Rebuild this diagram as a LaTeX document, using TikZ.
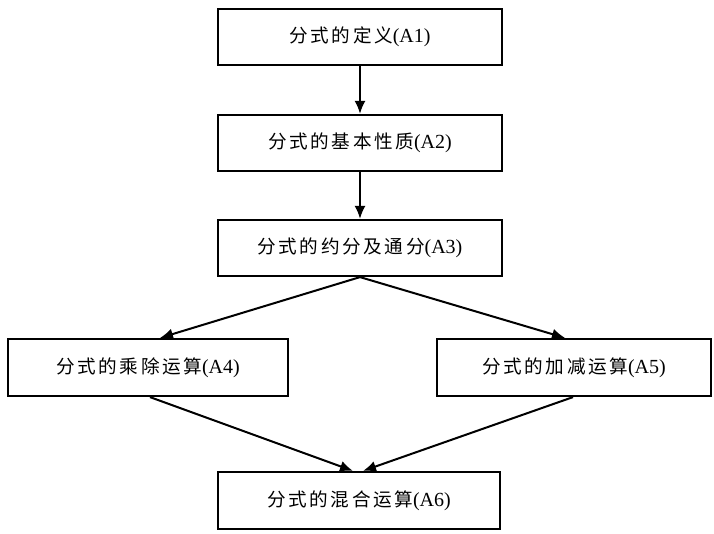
\documentclass[tikz,border=0pt]{standalone}
\usepackage{fontspec}
\setmainfont{Liberation Serif}
\newfontfamily\cjk{Noto Sans CJK SC}[Scale=0.93,LetterSpace=14]
\usetikzlibrary{arrows.meta}
\begin{document}
\begin{tikzpicture}[x=1pt,y=-1pt,
  box/.style={draw=black,line width=2.2pt,fill=white,inner sep=0pt,
    minimum height=56pt,font=\fontsize{20pt}{22pt}\selectfont},
  conn/.style={line width=2pt,-{Latex[length=13pt,width=11pt]}}]
\useasboundingbox[fill=white] (0,0) rectangle (714,534);
\node[box,minimum width=284pt] (A1) at (360,37) {\raisebox{-2pt}{{\cjk 分式的定义}(A1)}};
\node[box,minimum width=284pt] (A2) at (360,143) {\raisebox{-2pt}{{\cjk 分式的基本性质}(A2)}};
\node[box,minimum width=284pt] (A3) at (360,248) {\raisebox{-2pt}{{\cjk 分式的约分及通分}(A3)}};
\node[box,minimum width=280pt,minimum height=57pt] (A4) at (148,367.5) {\raisebox{-2pt}{{\cjk 分式的乘除运算}(A4)}};
\node[box,minimum width=274pt,minimum height=57pt] (A5) at (574,367.5) {\raisebox{-2pt}{{\cjk 分式的加减运算}(A5)}};
\node[box,minimum width=282pt,minimum height=57pt] (A6) at (359,500.5) {\raisebox{-2pt}{{\cjk 分式的混合运算}(A6)}};
\draw[conn] (A1.south) -- (A2.north);
\draw[conn] (A2.south) -- (A3.north);
\draw[conn] (A3.south) -- ([xshift=12pt]A4.north);
\draw[conn] (A3.south) -- ([xshift=-9pt]A5.north);
\draw[conn] ([xshift=2pt]A4.south) -- ([xshift=-6pt]A6.north);
\draw[conn] ([xshift=-1pt]A5.south) -- ([xshift=4pt]A6.north);
\end{tikzpicture}
\end{document}
